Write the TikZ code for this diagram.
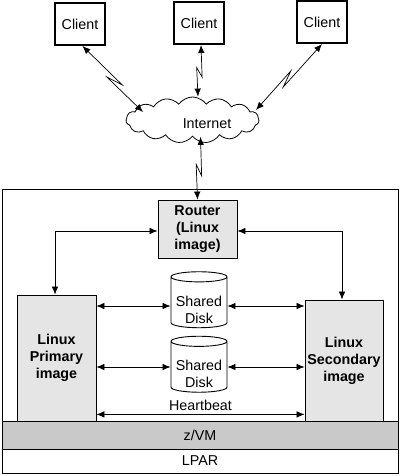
\documentclass[tikz,border=0pt]{standalone}
\usepackage{fontspec}
\setmainfont{Liberation Sans}
\usetikzlibrary{arrows.meta,shapes.symbols,shapes.geometric,calc}
\definecolor{boxgray}{gray}{0.90}
\definecolor{vmgray}{gray}{0.79}
\newcommand{\disktext}{\raisebox{-9pt}[\height][\depth]{\begin{tabular}{@{}c@{}}Shared\\Disk\end{tabular}}}
\begin{document}
\begin{tikzpicture}[x=1pt,y=-1pt,
  every node/.style={font=\fontsize{14.3}{17}\selectfont, inner sep=0pt},
  client/.style={draw, line width=2pt, minimum width=50pt, minimum height=42pt},
  graybox/.style={draw, line width=0.8pt, fill=boxgray, align=center, font=\fontsize{14.3}{17}\selectfont\bfseries},
  band/.style={draw, line width=0.8pt, minimum width=396pt},
  disk/.style={cylinder, shape border rotate=90, draw, line width=0.9pt, fill=white, aspect=0.22, minimum width=56pt, minimum height=56pt},
  dbl/.style={{Latex[length=8pt,width=6.5pt]}-{Latex[length=8pt,width=6.5pt]}, line width=0.7pt},
  zz/.style={to path={-- ($(\tikztostart)!0.62!(\tikztotarget)!3pt!90:(\tikztotarget)$)
                       -- ($(\tikztostart)!0.44!(\tikztotarget)!3pt!-90:(\tikztotarget)$)
                       -- (\tikztotarget)}}
]
\useasboundingbox (0,0) rectangle (400,476);

% clients
\node[client] (c1) at (80,24) {Client};
\node[client] (c2) at (199,23) {Client};
\node[client] (c3) at (322,22) {Client};

% cloud
\node[cloud, draw, line width=0.8pt, cloud puffs=15, cloud puff arc=110, aspect=2.9,
      minimum width=133pt, minimum height=46pt] (inet) at (192.5,120) {};
\node (inetlbl) at (207,124) {Internet};
\coordinate (e1) at (143,112);
\coordinate (e3) at (256,110);

% frame and bands
\node[draw, line width=1.3pt, minimum width=396pt, minimum height=284pt, anchor=north west] (frame) at (2,189) {};
\node[band, fill=vmgray, minimum height=28pt] (zvm) at (200,435) {z/VM};
\node[band, minimum height=24pt] (lpar) at (200,461) {LPAR};

% images
\node[graybox, minimum width=79pt, minimum height=58pt] (rt) at (197.5,229) {Router\\(Linux\\image)};
\node[graybox, minimum width=79pt, minimum height=126pt] (prim) at (56.5,358) {Linux\\Primary\\image};
\node[graybox, minimum width=78pt, minimum height=121pt] (sec) at (344,360.5) {Linux\\Secondary\\image};

% disks
\node[disk] (d1) at (199,302.5) {\disktext};
\node[disk] (d2) at (199,367) {\disktext};

% connectors clients - internet
\draw[dbl] ([xshift=2.5pt]c1.south) to[zz] (e1);
\draw[dbl] ([xshift=2pt]c2.south) to[zz] ([xshift=-1pt]c2.south |- inet.north);
\draw[dbl] (c3.south) to[zz] (e3);
\draw[dbl] ([xshift=3pt]inet.south -| rt.north) to[zz] (rt.north);

% router - images
\draw[dbl] ([yshift=-2pt]rt.west) -| ([xshift=-1.5pt]prim.north);
\draw[dbl] ([yshift=-2pt]rt.east) -| ([xshift=-2pt]sec.north);

% disks
\draw[dbl] ([yshift=-3.5pt]d1.west -| prim.east) -- ([yshift=-3.5pt]d1.west);
\draw[dbl] ([yshift=-3.5pt]d1.east) -- ([yshift=-3.5pt]d1.east -| sec.west);
\draw[dbl] (d2.west -| prim.east) -- (d2.west);
\draw[dbl] (d2.east) -- (d2.east -| sec.west);

% heartbeat
\draw[dbl] ([yshift=7pt]prim.south east) -- node[above=3pt] (hb) {Heartbeat} ([yshift=7pt]prim.south east -| sec.west);
\end{tikzpicture}
\end{document}
